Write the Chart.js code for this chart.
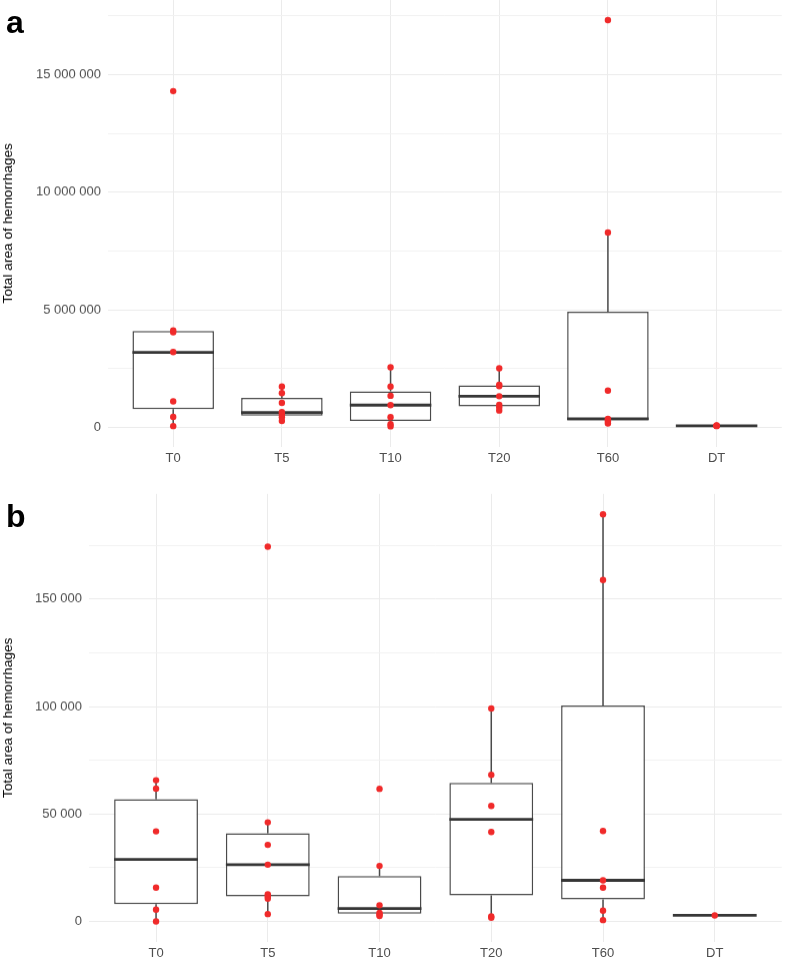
<!DOCTYPE html>
<html><head><meta charset="utf-8">
<script src="https://cdn.jsdelivr.net/npm/chart.js@4.4.1/dist/chart.umd.min.js"></script>
<style>
html,body{margin:0;padding:0;background:#fff;overflow:hidden;width:785px;height:957px;position:relative;}
.wrap{position:absolute;left:0;width:785px;}
.lab{position:absolute;font-family:'Liberation Sans',Arial,sans-serif;font-weight:bold;font-size:32px;line-height:32px;color:#000;z-index:5;}
</style></head><body>
<div class="wrap" id="wa"><canvas id="ca"></canvas></div>
<div class="wrap" id="wb"><canvas id="cb"></canvas></div>
<div class="lab" style="left:6px;top:6px">a</div>
<div class="lab" style="left:6px;top:500px">b</div>
<script>
// ---------- categories ----------
const categories = ['T0', 'T5', 'T10', 'T20', 'T60', 'DT'];

// ---------- panel a : individual values ----------
const a_T0  = [14300000, 4120000, 4040000, 3200000, 1100000, 440000, 50000];
const a_T5  = [1730000, 1450000, 1040000, 640000, 540000, 430000, 270000];
const a_T10 = [2550000, 1730000, 1340000, 940000, 430000, 130000, 40000];
const a_T20 = [2510000, 1810000, 1750000, 1320000, 950000, 840000, 710000];
const a_T60 = [17320000, 8280000, 1560000, 360000, 330000, 250000, 160000];
const a_DT  = [80000, 70000, 60000, 50000];

// panel a : box statistics
const a_low    = [50000,   270000,  40000,   710000,  160000,  50000];
const a_q1     = [770000,  490000,  270000,  890000,  290000,  58000];
const a_median = [3180000, 630000,  940000,  1320000, 360000,  65000];
const a_q3     = [4090000, 1245000, 1530000, 1780000, 4920000, 73000];
const a_high   = [4120000, 1730000, 2550000, 2510000, 8280000, 80000];

// panel a : y tick labels
const a_majorTicks = [0, 5000000, 10000000, 15000000];
const a_minorTicks = [2500000, 7500000, 12500000, 17500000];

// ---------- panel b : individual values ----------
const b_T0  = [65700, 61800, 41900, 15700, 5450, 0];
const b_T5  = [174400, 46100, 35600, 26400, 12600, 11600, 10600, 3400];
const b_T10 = [61700, 25800, 7500, 3900, 3100, 2500];
const b_T20 = [99100, 68200, 53700, 41600, 2300, 1700];
const b_T60 = [189500, 158900, 42100, 19100, 15700, 5000, 600];
const b_DT  = [2800];

// panel b : box statistics
const b_low    = [0,     3400,  2500,  1700,   600,    2800];
const b_q1     = [8000,  11600, 3600,  12100,  10200,  2800];
const b_median = [28800, 26400, 6000,  47500,  19100,  2800];
const b_q3     = [56900, 41000, 21100, 64500,  100500, 2800];
const b_high   = [65700, 46100, 25800, 99100,  189500, 2800];

// panel b : y tick labels
const b_majorTicks = [0, 50000, 100000, 150000];
const b_minorTicks = [25000, 75000, 125000, 175000];

// ---------- helpers ----------
const FONT = "'Liberation Sans', Arial, sans-serif";
const BOX_COLOR = '#4a4a4a';
const MED_COLOR = '#363636';
const DOT_COLOR = '#f02a2a';

function fmt(v) { return String(Math.round(v)).replace(/\B(?=(\d{3})+(?!\d))/g, ' '); }

function boxPlugin(low, q1, med, q3, high) {
  return {
    id: 'boxParts',
    afterDatasetDraw(chart, args) {
      if (args.index !== 0) return;
      const ctx = chart.ctx, x = chart.scales.x, y = chart.scales.y;
      const meta = chart.getDatasetMeta(0);
      ctx.save();
      meta.data.forEach((bar, i) => {
        const cx = x.getPixelForValue(i);
        const half = bar.getProps(['width'], true).width / 2;
        ctx.strokeStyle = BOX_COLOR; ctx.lineWidth = 1.5;
        ctx.beginPath();
        ctx.moveTo(cx, y.getPixelForValue(q3[i])); ctx.lineTo(cx, y.getPixelForValue(high[i]));
        ctx.moveTo(cx, y.getPixelForValue(q1[i])); ctx.lineTo(cx, y.getPixelForValue(low[i]));
        ctx.stroke();
        const ym = y.getPixelForValue(med[i]);
        ctx.strokeStyle = MED_COLOR; ctx.lineWidth = 2.8;
        ctx.beginPath(); ctx.moveTo(cx - half, ym); ctx.lineTo(cx + half, ym); ctx.stroke();
      });
      ctx.restore();
    }
  };
}

function makeConfig(groups, low, q1, med, q3, high, majors, minors, yMin, yMax, axisW) {
  const boxData = categories.map((c, i) => ({ x: i, y: [q1[i], q3[i]] }));
  const dotData = [];
  groups.forEach((g, i) => g.forEach(v => dotData.push({ x: i, y: v })));
  const allTicks = majors.concat(minors).sort((p, q) => p - q);
  return {
    data: {
      datasets: [
        { type: 'bar', data: boxData, order: 2, backgroundColor: '#ffffff', borderColor: BOX_COLOR,
          borderWidth: 1.5, borderSkipped: false, barPercentage: 0.75, categoryPercentage: 1 },
        { type: 'scatter', data: dotData, order: 1, pointRadius: 3.2, pointBackgroundColor: DOT_COLOR,
          pointBorderWidth: 0, pointHoverRadius: 3.2 }
      ]
    },
    plugins: [boxPlugin(low, q1, med, q3, high)],
    options: {
      responsive: true, maintainAspectRatio: false, animation: false,
      plugins: { legend: { display: false }, tooltip: { enabled: false } },
      layout: { padding: 0 },
      scales: {
        x: {
          type: 'linear', min: -0.6, max: 5.6, offset: false,
          afterBuildTicks: s => { s.ticks = categories.map((c, i) => ({ value: i })); },
          afterFit: s => { s.height = 30; },
          ticks: { callback: (v, i) => categories[i], autoSkip: false, maxRotation: 0, padding: 4,
                   color: '#4d4d4d', font: { family: FONT, size: 13 } },
          grid: { color: '#ebebeb', lineWidth: 1, drawTicks: false, offset: false },
          border: { display: false }
        },
        y: {
          type: 'linear', min: yMin, max: yMax,
          afterBuildTicks: s => { s.ticks = allTicks.map(v => ({ value: v })); },
          afterFit: s => { s.width = axisW; },
          ticks: { callback: v => majors.includes(v) ? fmt(v) : '', padding: 7, autoSkip: false,
                   color: '#4d4d4d', font: { family: FONT, size: 13 } },
          grid: { color: c => majors.includes(c.tick.value) ? '#ebebeb' : '#f2f2f2', lineWidth: 1, drawTicks: false },
          border: { display: false },
          title: { display: true, text: 'Total area of hemorrhages', color: '#000000',
                   font: { family: FONT, size: 13.7 }, padding: { top: 0, bottom: 0 } }
        }
      }
    }
  };
}

function build(canvasId, wrapId, cfg, want) {
  const wrap = document.getElementById(wrapId);
  wrap.style.top = want.top + 'px';
  wrap.style.height = (want.bottom - want.top + 40) + 'px';
  const chart = new Chart(document.getElementById(canvasId), cfg);
  for (let k = 0; k < 3; k++) {
    const ca = chart.chartArea;
    const H = wrap.clientHeight;
    const newH = H + (want.bottom - want.top) - (ca.bottom - ca.top);
    wrap.style.top = (want.top - ca.top) + 'px';
    wrap.style.height = newH + 'px';
    chart.resize();
  }
  return chart;
}

build('ca', 'wa',
  makeConfig([a_T0, a_T5, a_T10, a_T20, a_T60, a_DT], a_low, a_q1, a_median, a_q3, a_high,
             a_majorTicks, a_minorTicks, -830000, 18180000, 108),
  { top: 0, bottom: 446 });

build('cb', 'wb',
  makeConfig([b_T0, b_T5, b_T10, b_T20, b_T60, b_DT], b_low, b_q1, b_median, b_q3, b_high,
             b_majorTicks, b_minorTicks, -9500, 199000, 89),
  { top: 494, bottom: 941 });
</script>
</body></html>
